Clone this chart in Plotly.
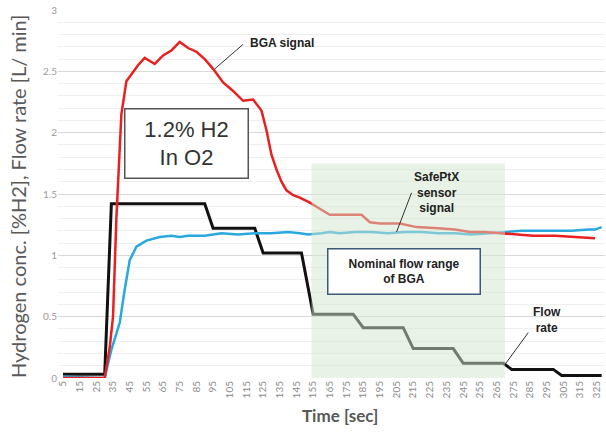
import plotly.graph_objects as go

# ---- data ----
time_bga = [5, 30, 33, 35, 37, 38, 40, 43, 47, 50, 54, 60, 65, 70, 75, 80, 85, 90, 95, 101, 107, 113, 119,
            124, 127, 130, 133, 136, 139, 143, 147, 153, 159, 165, 175, 184, 189, 195, 207, 217, 230, 240,
            249, 258, 267, 277, 287, 300, 311, 324]
bga = [0.0, 0.0, 0.25, 0.5, 1.3, 1.6, 2.15, 2.42, 2.5, 2.55, 2.61, 2.56, 2.63, 2.67, 2.74, 2.69, 2.66, 2.60,
       2.52, 2.41, 2.34, 2.26, 2.27, 2.18, 2.02, 1.82, 1.70, 1.60, 1.53, 1.49, 1.47, 1.43, 1.38, 1.33, 1.33,
       1.33, 1.27, 1.26, 1.26, 1.23, 1.22, 1.21, 1.19, 1.19, 1.18, 1.17, 1.16, 1.16, 1.15, 1.14]

time_sensor = [5, 30, 34, 39, 42, 45, 49, 55, 63, 70, 75, 80, 90, 100, 110, 120, 130, 140, 147, 152, 160,
               165, 171, 180, 190, 200, 210, 220, 230, 240, 250, 260, 270, 280, 290, 300, 310, 320, 324, 328]
sensor = [0.01, 0.0, 0.23, 0.45, 0.72, 0.96, 1.07, 1.12, 1.15, 1.16, 1.15, 1.16, 1.16, 1.18, 1.17, 1.18,
          1.18, 1.19, 1.18, 1.17, 1.18, 1.19, 1.18, 1.19, 1.19, 1.18, 1.19, 1.19, 1.18, 1.18, 1.17, 1.18,
          1.19, 1.20, 1.20, 1.20, 1.20, 1.21, 1.21, 1.23]

time_flow = [5, 30, 34, 90, 95, 120, 125, 148, 155, 179, 185, 209, 215, 239, 245, 269, 274, 299, 304, 328]
flow = [0.03, 0.03, 1.42, 1.42, 1.22, 1.22, 1.02, 1.02, 0.52, 0.52, 0.41, 0.41, 0.24, 0.24, 0.12, 0.12,
        0.07, 0.07, 0.02, 0.02]

tick_times = list(range(5, 326, 10))
tick_labels = [str(t) for t in tick_times]
y_ticks = [0, 0.5, 1, 1.5, 2, 2.5, 3]
y_tick_labels = ["0", "0.5", "1", "1.5", "2", "2.5", "3"]

nominal_range = [154, 270, 1.75]  # start, end time, top value

fig = go.Figure()
fig.add_trace(go.Scatter(x=time_flow, y=flow, mode="lines", line=dict(color="#111111", width=3),
                         name="Flow rate"))
fig.add_trace(go.Scatter(x=time_sensor, y=sensor, mode="lines", line=dict(color="#29a8e0", width=2.5),
                         name="SafePtX sensor signal"))
fig.add_trace(go.Scatter(x=time_bga, y=bga, mode="lines", line=dict(color="#e8201f", width=2.5),
                         name="BGA signal"))

# nominal flow range (translucent green overlay)
fig.add_shape(type="rect", xref="x", yref="y", x0=nominal_range[0], x1=nominal_range[1],
              y0=0, y1=nominal_range[2], fillcolor="rgb(210,230,205)", opacity=0.5,
              line=dict(width=0), layer="above")

# leader lines
lead = dict(color="#333333", width=1)
fig.add_shape(type="line", xref="x", yref="y", x0=96, y0=2.52, x1=113, y1=2.72, line=lead)
fig.add_shape(type="line", xref="x", yref="y", x0=205, y0=1.19, x1=214, y1=1.51, line=lead)
fig.add_shape(type="line", xref="x", yref="y", x0=270, y0=0.11, x1=284, y1=0.37, line=lead)

bold = dict(family="Liberation Sans, Arial", size=12, color="#222222")
fig.add_annotation(x=116, y=2.73, xref="x", yref="y", text="<b>BGA signal</b>", showarrow=False,
                   xanchor="left", font=bold)
fig.add_annotation(x=229, y=1.51, xref="x", yref="y", text="<b>SafePtX<br>sensor<br>signal</b>",
                   showarrow=False, font=bold)
fig.add_annotation(x=295, y=0.47, xref="x", yref="y", text="<b>Flow<br>rate</b>", showarrow=False,
                   font=bold)
fig.add_annotation(x=79, y=1.91, xref="x", yref="y", text="1.2% H2<br>In O2", showarrow=False,
                   font=dict(family="Liberation Sans, Arial", size=22, color="#333333"),
                   bgcolor="white", bordercolor="#555555", borderwidth=1.5, borderpad=2,
                   width=118, height=64)
fig.add_annotation(x=209.3, y=0.866, xref="x", yref="y", text="<b>Nominal flow range<br>of BGA</b>",
                   showarrow=False, font=bold, bgcolor="white", bordercolor="#3a5a78",
                   borderwidth=1.5, borderpad=2, width=147, height=40)

# axis titles placed as paper annotations (given in pixels, converted below)
fig.add_annotation(x=340, y=416, xref="paper", yref="paper", text="Time [sec]", showarrow=False,
                   xanchor="center", yanchor="middle",
                   font=dict(size=17, color="#595959", family="Lato", weight="bold"))
fig.add_annotation(x=18, y=197, xref="paper", yref="paper", xanchor="center", yanchor="middle",
                   text="Hydrogen conc. [%H2], Flow rate [L/ min]", showarrow=False, textangle=-90,
                   font=dict(size=20, color="#595959", family="Lato"))

W, H = 606, 433
L, R, T, B = 58, 1, 10, 55
pw, ph = W - L - R, H - T - B
for ann in fig.layout.annotations[-2:]:
    ann.x = (ann.x - L) / pw
    ann.y = (H - B - ann.y) / ph

fig.update_layout(
    width=W, height=H,
    margin=dict(l=L, r=R, t=T, b=B),
    plot_bgcolor="white", paper_bgcolor="white",
    showlegend=False,
    font=dict(family="Lato, Open Sans", color="#595959"),
)
fig.update_xaxes(range=[2, 330], tickmode="array", tickvals=tick_times, ticktext=tick_labels,
                 tickangle=-90, tickfont=dict(size=10, color="#8c8c8c"), showgrid=False, zeroline=False,
                 showline=False, ticks="", automargin=False)
fig.update_yaxes(range=[0, 3], tickmode="array", tickvals=y_ticks, ticktext=y_tick_labels,
                 tickfont=dict(size=10, color="#9a9a9a"), showgrid=True, gridcolor="#d9d9d9",
                 gridwidth=1, zeroline=False, showline=False, ticks="", automargin=False,
                 minor=dict(dtick=0.1, showgrid=True, gridcolor="#efefef", gridwidth=1))

fig.write_html("out.html", config={"displayModeBar": False},
               post_script="document.body.style.margin='0';")
